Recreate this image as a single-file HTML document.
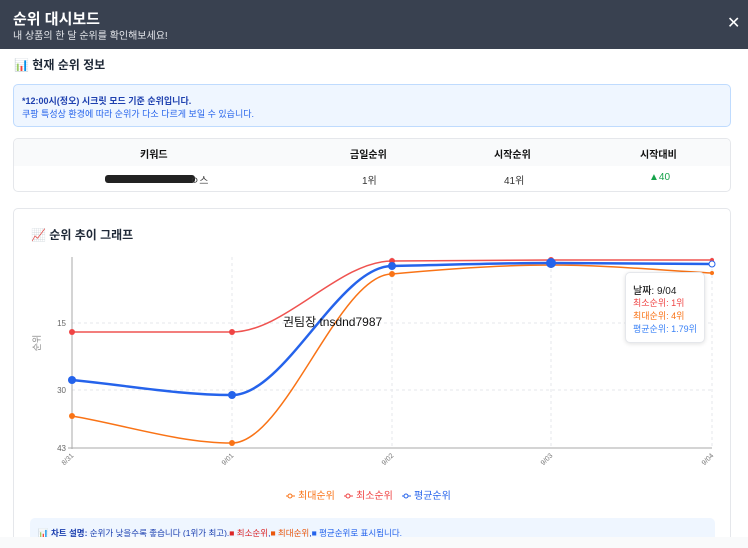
<!DOCTYPE html>
<html><head><meta charset="utf-8"><style>
*{box-sizing:border-box;margin:0;padding:0}
body{width:748px;height:548px;overflow:hidden;background:#fff;font-family:"Liberation Sans","Noto Sans CJK KR",sans-serif;position:relative}
.hdr{position:absolute;left:0;top:0;width:748px;height:49px;background:#394150;color:#fff}
.hdr .t{position:absolute;left:13px;top:8px;font-size:15px;font-weight:bold}
.hdr .s{position:absolute;left:13px;top:27px;font-size:10px;color:#e5e7eb}
.hdr .x{position:absolute;left:727px;top:13px;font-size:16px}
.abs{position:absolute}
</style></head><body>
<div class="hdr"><div class="t">순위 대시보드</div><div class="s">내 상품의 한 달 순위를 확인해보세요!</div><div class="x">✕</div></div>
<div class="abs" style="left:14px;top:56px;font-size:12px;font-weight:bold;color:#1f2937">📊 현재 순위 정보</div>
<div class="abs" style="left:13px;top:84px;width:718px;height:43px;background:#eff6ff;border:1px solid #bfdbfe;border-radius:5px"></div>
<div class="abs" style="left:22px;top:94px;font-size:9px;font-weight:bold;color:#1e40af">*12:00시(정오) 시크릿 모드 기준 순위입니다.</div>
<div class="abs" style="left:22px;top:107px;font-size:9px;color:#2563eb">쿠팡 특성상 환경에 따라 순위가 다소 다르게 보일 수 있습니다.</div>
<div class="abs" style="left:13px;top:138px;width:718px;height:54px;border:1px solid #e5e7eb;border-radius:5px;overflow:hidden">
<div style="height:27px;background:#f9fafb"></div></div>
<div class="abs" style="top:146px;left:0;width:748px;font-size:10px;font-weight:bold;color:#111">
<span class="abs" style="left:140px">키워드</span><span class="abs" style="left:350px">금일순위</span><span class="abs" style="left:494px">시작순위</span><span class="abs" style="left:640px">시작대비</span></div>
<div class="abs" style="top:172px;left:0;width:748px;font-size:10px;color:#333">
<span class="abs" style="left:105px;top:3px;width:90px;height:8px;background:#222;border-radius:3px"></span><span class="abs" style="left:190px">ㅇ스</span>
<span class="abs" style="left:362px">1위</span><span class="abs" style="left:504px">41위</span><span class="abs" style="left:649px;color:#16a34a">▲40</span></div>
<div class="abs" style="left:13px;top:208px;width:718px;height:340px;border:1px solid #e5e7eb;border-radius:5px"></div>
<div class="abs" style="left:31px;top:226px;font-size:12px;font-weight:bold;color:#1f2937">📈 순위 추이 그래프</div>
<svg class="abs" style="left:0;top:0" width="748" height="548">
<g stroke="#e5e7eb" stroke-dasharray="3,3" stroke-width="1">
<line x1="72" y1="323" x2="712" y2="323"/><line x1="72" y1="390" x2="712" y2="390"/>
<line x1="232" y1="257" x2="232" y2="448"/><line x1="392" y1="257" x2="392" y2="448"/><line x1="551" y1="257" x2="551" y2="448"/><line x1="712" y1="257" x2="712" y2="448"/>
</g>
<line x1="72" y1="257" x2="72" y2="449" stroke="#aaa"/><line x1="68" y1="448" x2="712" y2="448" stroke="#aaa"/>
<g font-size="8" fill="#666" text-anchor="end"><text x="66" y="326">15</text><text x="66" y="393">30</text><text x="66" y="451">43</text></g>
<text x="40" y="343" font-size="9" fill="#888" transform="rotate(-90 40 343)" text-anchor="middle">순위</text>
<g font-size="7" fill="#777" text-anchor="end">
<text transform="translate(74,456) rotate(-45)">8/31</text><text transform="translate(234,456) rotate(-45)">9/01</text><text transform="translate(394,456) rotate(-45)">9/02</text><text transform="translate(553,456) rotate(-45)">9/03</text><text transform="translate(714,456) rotate(-45)">9/04</text></g>
<path d="M72,332 C125,332 179,332 232,332 C285,332 339,261 392,261 C445,261 498,260 551,260 C604,260 658,260 712,260" fill="none" stroke="#ef5350" stroke-width="1.5"/>
<path d="M72,416 C125,425 179,443 232,443 C285,443 339,274 392,274 C445,269 498,265 551,265 C604,265 658,270 712,273" fill="none" stroke="#f97316" stroke-width="1.5"/>
<path d="M72,380 C125,385 179,395 232,395 C285,395 339,266 392,266 C445,265 498,263 551,263 C604,263 658,264 712,264" fill="none" stroke="#2563eb" stroke-width="2.5"/>
<g fill="#ef4444"><circle cx="72" cy="332" r="3"/><circle cx="232" cy="332" r="3"/><circle cx="392" cy="261" r="3"/><circle cx="551" cy="260" r="3"/><circle cx="712" cy="260" r="2"/></g>
<g fill="#f97316"><circle cx="72" cy="416" r="3"/><circle cx="232" cy="443" r="3"/><circle cx="392" cy="274" r="3"/><circle cx="551" cy="265" r="3"/><circle cx="712" cy="273" r="2"/></g>
<g fill="#2563eb"><circle cx="72" cy="380" r="4"/><circle cx="232" cy="395" r="4"/><circle cx="392" cy="266" r="4"/><circle cx="551" cy="263" r="5"/><circle cx="712" cy="264" r="3" fill="#fff" stroke="#2563eb"/></g>
<text x="283" y="326" font-size="12" fill="#111">권팀장 tnsdnd7987</text>
<g font-size="10">
<line x1="286" y1="496" x2="295" y2="496" stroke="#f97316"/><circle cx="290" cy="496" r="2" fill="#fff" stroke="#f97316"/><text x="298" y="499" fill="#f97316">최대순위</text>
<line x1="344" y1="496" x2="353" y2="496" stroke="#ef4444"/><circle cx="348" cy="496" r="2" fill="#fff" stroke="#ef4444"/><text x="356" y="499" fill="#ef4444">최소순위</text>
<line x1="402" y1="496" x2="411" y2="496" stroke="#2563eb"/><circle cx="406" cy="496" r="2" fill="#fff" stroke="#2563eb"/><text x="414" y="499" fill="#2563eb">평균순위</text></g>
</svg>
<div class="abs" style="left:625px;top:272px;width:80px;height:71px;background:#fff;border:1px solid #e5e7eb;border-radius:5px;box-shadow:0 1px 4px rgba(0,0,0,.12)"></div>
<div class="abs" style="left:633px;top:282px;font-size:10px;color:#222;font-weight:500">날짜: 9/04</div>
<div class="abs" style="left:633px;top:296px;font-size:9px;color:#ef4444">최소순위: 1위</div>
<div class="abs" style="left:633px;top:309px;font-size:9px;color:#f97316">최대순위: 4위</div>
<div class="abs" style="left:633px;top:322px;font-size:9px;color:#3b82f6">평균순위: 1.79위</div>
<div class="abs" style="left:30px;top:518px;width:685px;height:30px;background:#eff6ff;border-radius:5px"></div>
<div class="abs" style="left:38px;top:527px;font-size:8.5px;color:#1e40af"><b>📊 차트 설명:</b> 순위가 낮을수록 좋습니다 (1위가 최고).<span style="color:#dc2626">■ 최소순위</span>,<span style="color:#ea580c">■ 최대순위</span>,<span style="color:#2563eb">■ 평균순위로 표시됩니다.</span></div>
<div class="abs" style="left:0;top:537px;width:748px;height:11px;background:#f9fafb"></div>
</body></html>
